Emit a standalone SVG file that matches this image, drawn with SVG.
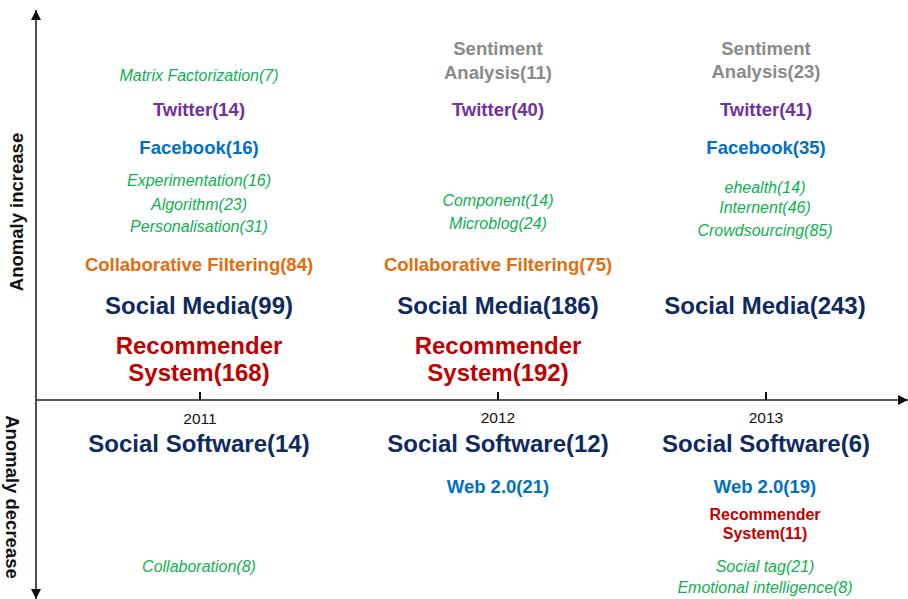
<svg xmlns="http://www.w3.org/2000/svg" width="908" height="599" viewBox="0 0 908 599">
  <defs>
    <marker id="arrow" viewBox="0 0 10 10" refX="10" refY="5" markerWidth="10" markerHeight="10" markerUnits="userSpaceOnUse" orient="auto">
      <path d="M0,0 L10,5 L0,10 z" fill="#111"/>
    </marker>
    <style>
      text { font-family: "Liberation Sans", Arial, sans-serif; text-anchor: middle; }
      .kw { font-style: italic; font-size: 16px; fill: #0fb050; }
      .mid { font-weight: bold; font-size: 18.5px; }
      .big { font-weight: bold; font-size: 24px; }
      .purple { fill: #7030a0; }
      .blue { fill: #0070c0; }
      .orange { fill: #e46c0a; }
      .navy { fill: #0f2a5f; }
      .red { fill: #c00000; }
      .gray { fill: #8a8a8a; }
      .year { font-size: 15.5px; fill: #111; }
      .axislabel { font-weight: bold; font-size: 18.5px; fill: #111; }
      .axis { stroke: #222; stroke-width: 1.6; fill: none; }
      .tick { stroke: #111; stroke-width: 2; }
    </style>
  </defs>
  <rect width="908" height="599" fill="#fff"/>

  <!-- axes and year ticks -->
  <g id="connectors">
    <line class="axis" x1="36" y1="400" x2="36" y2="10" marker-end="url(#arrow)"/>
    <line class="axis" x1="36" y1="400" x2="36" y2="599" marker-end="url(#arrow)"/>
    <line class="axis" x1="36" y1="400" x2="908" y2="400" marker-end="url(#arrow)"/>
    <line class="tick" x1="200" y1="392" x2="200" y2="400"/>
    <line class="tick" x1="498" y1="392" x2="498" y2="400"/>
    <line class="tick" x1="766" y1="392" x2="766" y2="400"/>
  </g>

  <g id="axis-labels">
    <text class="axislabel" transform="translate(23,212) rotate(-90)">Anomaly increase</text>
    <text class="axislabel" transform="translate(6,497) rotate(90)">Anomaly decrease</text>
  </g>

  <g id="years">
    <text class="year" x="200" y="424">2011</text>
    <text class="year" x="498" y="423">2012</text>
    <text class="year" x="766" y="423">2013</text>
  </g>

  <!-- 2011 -->
  <g id="y2011-matrix-factorization"><text class="kw" x="199" y="81">Matrix Factorization(7)</text></g>
  <g id="y2011-twitter"><text class="mid purple" x="199" y="116">Twitter(14)</text></g>
  <g id="y2011-facebook"><text class="mid blue" x="199" y="154">Facebook(16)</text></g>
  <g id="y2011-experimentation"><text class="kw" x="199" y="186">Experimentation(16)</text></g>
  <g id="y2011-algorithm"><text class="kw" x="199" y="210">Algorithm(23)</text></g>
  <g id="y2011-personalisation"><text class="kw" x="199" y="232">Personalisation(31)</text></g>
  <g id="y2011-collaborative-filtering"><text class="mid orange" x="199" y="271">Collaborative Filtering(84)</text></g>
  <g id="y2011-social-media"><text class="big navy" x="199" y="314">Social Media(99)</text></g>
  <g id="y2011-recommender-system">
    <text class="big red" x="199" y="354">Recommender</text>
    <text class="big red" x="199" y="381">System(168)</text>
  </g>
  <g id="y2011-social-software"><text class="big navy" x="199" y="452">Social Software(14)</text></g>
  <g id="y2011-collaboration"><text class="kw" x="199" y="572">Collaboration(8)</text></g>

  <!-- 2012 -->
  <g id="y2012-sentiment-analysis">
    <text class="mid gray" x="498" y="55">Sentiment</text>
    <text class="mid gray" x="498" y="79">Analysis(11)</text>
  </g>
  <g id="y2012-twitter"><text class="mid purple" x="498" y="116">Twitter(40)</text></g>
  <g id="y2012-component"><text class="kw" x="498" y="206">Component(14)</text></g>
  <g id="y2012-microblog"><text class="kw" x="498" y="229">Microblog(24)</text></g>
  <g id="y2012-collaborative-filtering"><text class="mid orange" x="498" y="271">Collaborative Filtering(75)</text></g>
  <g id="y2012-social-media"><text class="big navy" x="498" y="314">Social Media(186)</text></g>
  <g id="y2012-recommender-system">
    <text class="big red" x="498" y="354">Recommender</text>
    <text class="big red" x="498" y="381">System(192)</text>
  </g>
  <g id="y2012-social-software"><text class="big navy" x="498" y="452">Social Software(12)</text></g>
  <g id="y2012-web20"><text class="mid blue" x="498" y="493">Web 2.0(21)</text></g>

  <!-- 2013 -->
  <g id="y2013-sentiment-analysis">
    <text class="mid gray" x="766" y="55">Sentiment</text>
    <text class="mid gray" x="766" y="78">Analysis(23)</text>
  </g>
  <g id="y2013-twitter"><text class="mid purple" x="766" y="116">Twitter(41)</text></g>
  <g id="y2013-facebook"><text class="mid blue" x="766" y="154">Facebook(35)</text></g>
  <g id="y2013-ehealth"><text class="kw" x="765" y="193">ehealth(14)</text></g>
  <g id="y2013-internent"><text class="kw" x="765" y="213">Internent(46)</text></g>
  <g id="y2013-crowdsourcing"><text class="kw" x="765" y="236">Crowdsourcing(85)</text></g>
  <g id="y2013-social-media"><text class="big navy" x="765" y="314">Social Media(243)</text></g>
  <g id="y2013-social-software"><text class="big navy" x="766" y="452">Social Software(6)</text></g>
  <g id="y2013-web20"><text class="mid blue" x="765" y="493">Web 2.0(19)</text></g>
  <g id="y2013-recommender-system">
    <text class="red" x="765" y="520" font-weight="bold" font-size="16">Recommender</text>
    <text class="red" x="765" y="539" font-weight="bold" font-size="16">System(11)</text>
  </g>
  <g id="y2013-social-tag"><text class="kw" x="765" y="572">Social tag(21)</text></g>
  <g id="y2013-emotional-intelligence"><text class="kw" x="765" y="593">Emotional intelligence(8)</text></g>
</svg>
